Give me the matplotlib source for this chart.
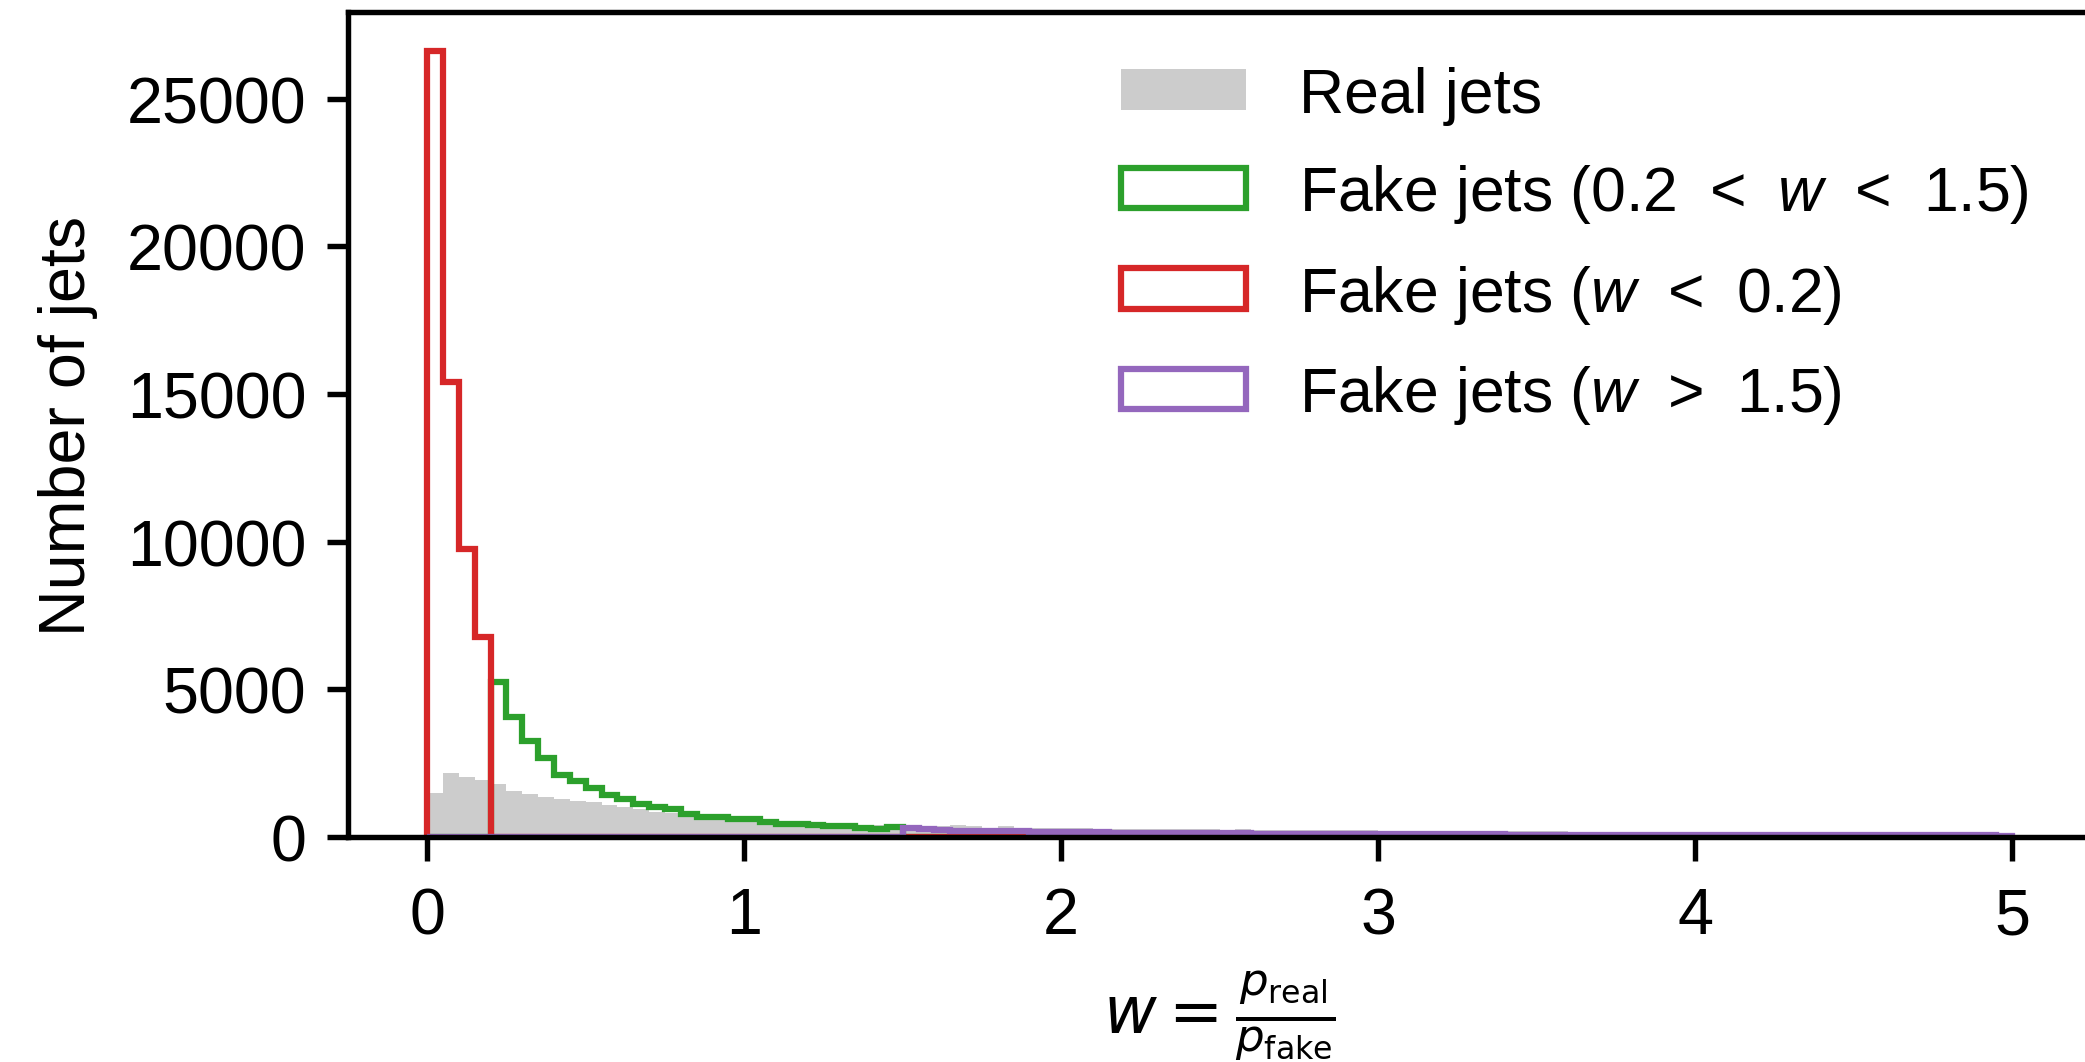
import numpy as np
import matplotlib
matplotlib.use("Agg")
import matplotlib.pyplot as plt

# Bin edges: 100 bins of width 0.05 between 0 and 5
edges = np.linspace(0, 5, 101)
centers = 0.5 * (edges[:-1] + edges[1:])

# Real jets, all 100 bins
real_counts = [
    1490, 2150, 2040, 1920, 1810, 1550, 1450, 1340, 1270, 1220,
    1170, 1080, 1000, 940, 860, 800, 720, 660, 620, 580,
    560, 530, 500, 490, 470, 460, 440, 420, 410, 400,
    420, 370, 370, 400, 360, 320, 360, 310, 310, 300,
    290, 290, 285, 270, 275, 270, 265, 275, 260, 255,
    250, 258, 245, 240, 235, 242, 230, 225, 222, 228,
    210, 208, 212, 205, 200, 203, 198, 195, 192, 190,
    192, 186, 183, 180, 178, 175, 172, 170, 168, 165,
    160, 158, 155, 152, 150, 148, 145, 142, 140, 138,
    135, 132, 130, 128, 125, 122, 120, 118, 115, 112,
]

# Fake jets with w < 0.2 (bins 0 .. 0.2)
fake_low = [26600, 15400, 9750, 6780]

# Fake jets with 0.2 < w < 1.5
fake_mid = [
    5240, 4060, 3250, 2690, 2110, 1890, 1670, 1410, 1300, 1130,
    1000, 950, 770, 670, 670, 600, 600, 520, 430, 430,
    410, 380, 380, 320, 260, 340,
]

# Fake jets with w > 1.5
fake_high = [
    300, 270, 220, 215, 210, 200, 195, 190, 185, 175,
    170, 165, 160, 150, 145, 138, 135, 132, 128, 125,
    122, 119, 116, 113, 110, 107, 105, 102, 100, 98,
    96, 94, 92, 90, 89, 88, 86, 84, 82, 80,
    78, 77, 76, 75, 74, 72, 71, 70, 69, 68,
    66, 65, 64, 63, 62, 61, 60, 59, 58, 57,
    56, 55, 54, 53, 53, 52, 51, 50, 50, 49,
]

n_bins = len(edges) - 1
low_w = np.concatenate([fake_low, np.zeros(n_bins - len(fake_low))])
mid_w = np.concatenate([np.zeros(len(fake_low)), fake_mid,
                        np.zeros(n_bins - len(fake_low) - len(fake_mid))])
high_w = np.concatenate([np.zeros(n_bins - len(fake_high)), fake_high])

plt.rcParams["font.family"] = "Liberation Sans"
plt.rcParams["mathtext.fontset"] = "custom"
plt.rcParams["mathtext.rm"] = "Liberation Sans"
plt.rcParams["mathtext.it"] = "Liberation Sans:italic"
plt.rcParams["mathtext.bf"] = "Liberation Sans:bold"

fig = plt.figure(figsize=(6.95, 3.5433), dpi=300)
ax = fig.add_axes([0.1669, 0.2117, 0.8361, 0.7761])

lw = 1.5
ax.hist(centers, bins=edges, weights=real_counts, histtype="stepfilled",
        color="#cccccc", label="Real jets")
ax.hist(centers, bins=edges, weights=mid_w, histtype="step",
        color="tab:green", linewidth=lw,
        label=r"Fake jets (0.2$\;$ < $\;w\;$ < $\;$1.5)")
ax.hist(centers, bins=edges, weights=low_w, histtype="step",
        color="tab:red", linewidth=lw,
        label=r"Fake jets ($w\;$ < $\;$0.2)")
ax.hist(centers, bins=edges, weights=high_w, histtype="step",
        color="tab:purple", linewidth=lw,
        label=r"Fake jets ($w\;$ > $\;$1.5)")

ax.set_xlim(-0.25, 5.25)
ax.set_ylim(0, 27930)
ax.set_xticks([0, 1, 2, 3, 4, 5])
ax.set_yticks([0, 5000, 10000, 15000, 20000, 25000])

for side in ax.spines.values():
    side.set_linewidth(1.3)
ax.tick_params(axis="both", which="major", length=5, width=1.3,
               labelsize=15.5, pad=5)
ax.tick_params(axis="x", length=5.8, pad=6)

ax.set_ylabel("Number of jets", fontsize=15.5, labelpad=7)
ax.set_xlabel(r"$w = \frac{p_{\rm real}}{p_{\rm fake}}$", fontsize=15.5,
              math_fontfamily="dejavusans", labelpad=5)

ax.legend(loc="upper left", bbox_to_anchor=(0.4435, 0.935),
          frameon=False, fontsize=15, handlelength=2.0, handleheight=0.62,
          handletextpad=0.85, labelspacing=0.6, borderpad=0,
          borderaxespad=0)

fig.savefig("out.png", dpi=300)
